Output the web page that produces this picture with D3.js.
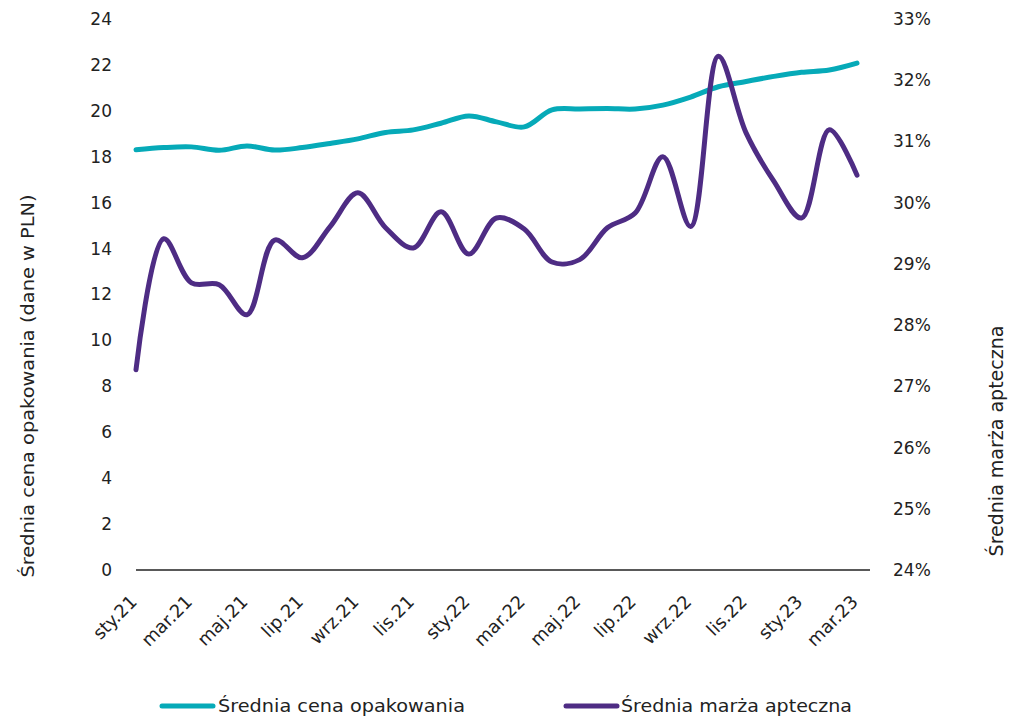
<!DOCTYPE html>
<html><head><meta charset="utf-8">
<script src="https://cdn.jsdelivr.net/npm/d3@7"></script>
<style>
body{margin:0;background:#fff;}
text{font-family:"DejaVu Sans",sans-serif;fill:#222;}
</style></head>
<body>
<svg id="c" width="1012" height="717"></svg>
<script>
const months = ["sty.21","lut.21","mar.21","kwi.21","maj.21","cze.21","lip.21","sie.21","wrz.21","paź.21","lis.21","gru.21",
"sty.22","lut.22","mar.22","kwi.22","maj.22","cze.22","lip.22","sie.22","wrz.22","paź.22","lis.22","gru.22",
"sty.23","lut.23","mar.23"];
const price = [18.30,18.40,18.43,18.28,18.47,18.29,18.40,18.58,18.78,19.06,19.17,19.46,19.78,19.52,19.30,20.04,20.08,20.10,20.08,20.25,20.60,21.05,21.28,21.50,21.68,21.78,22.08];
const margin = [27.27,29.41,28.69,28.66,28.17,29.39,29.10,29.61,30.16,29.59,29.26,29.85,29.16,29.75,29.57,29.03,29.07,29.59,29.83,30.75,29.61,32.39,31.14,30.35,29.75,31.19,30.45];
const leftTicks = [0,2,4,6,8,10,12,14,16,18,20,22,24];
const rightTicks = [24,25,26,27,28,29,30,31,32,33];
const seriesNames = ["Średnia cena opakowania","Średnia marża apteczna"];
const colors = ["#06aab8","#4e2c84"];

const svg = d3.select("#c");
const x = d3.scaleLinear().domain([0, months.length-1]).range([136, 857]);
const yL = d3.scaleLinear().domain([0,24]).range([570,19]);
const yR = d3.scaleLinear().domain([24,33]).range([570,19]);

// x axis line
svg.append("line").attr("x1",136).attr("x2",870).attr("y1",570).attr("y2",570)
  .attr("stroke","#222").attr("stroke-width",1.3);

// left ticks
svg.append("g").selectAll("text").data(leftTicks).join("text")
  .attr("x",112).attr("y",d=>yL(d)).attr("dy","0.35em").attr("text-anchor","end")
  .attr("font-size",17).text(d=>d);
// right ticks
svg.append("g").selectAll("text").data(rightTicks).join("text")
  .attr("x",893).attr("y",d=>yR(d)).attr("dy","0.35em").attr("text-anchor","start")
  .attr("font-size",17).text(d=>d+"%");

// x labels
svg.append("g").selectAll("text").data(months.map((m,i)=>({m,i})).filter(d=>d.i%2===0)).join("text")
  .attr("transform",d=>`translate(${x(d.i)+2},${603}) rotate(-45)`)
  .attr("text-anchor","end").attr("font-size",18).text(d=>d.m);

// axis titles
svg.append("text").attr("transform","translate(34,386) rotate(-90)").attr("text-anchor","middle")
  .attr("font-size",17).attr("textLength",383).attr("lengthAdjust","spacingAndGlyphs")
  .text("Średnia cena opakowania (dane w PLN)");
svg.append("text").attr("transform","translate(1003,441) rotate(-90)").attr("text-anchor","middle")
  .attr("font-family","Liberation Sans, Arial, sans-serif").attr("font-size",19)
  .text("Średnia marża apteczna");

// lines
const lineL = d3.line().x((d,i)=>x(i)).y(d=>yL(d)).curve(d3.curveCatmullRom.alpha(0.5));
const lineR = d3.line().x((d,i)=>x(i)).y(d=>yR(d)).curve(d3.curveCatmullRom.alpha(0.5));
svg.append("path").attr("d",lineL(price)).attr("fill","none").attr("stroke",colors[0])
  .attr("stroke-width",5).attr("stroke-linecap","round");
svg.append("path").attr("d",lineR(margin)).attr("fill","none").attr("stroke",colors[1])
  .attr("stroke-width",5).attr("stroke-linecap","round");

// legend
const leg = [{x1:162,x2:213,tx:218,w:247},{x1:566,x2:617,tx:621,w:231}];
leg.forEach((l,k)=>{
  svg.append("line").attr("x1",l.x1).attr("x2",l.x2).attr("y1",706).attr("y2",706)
    .attr("stroke",colors[k]).attr("stroke-width",5).attr("stroke-linecap","round");
  svg.append("text").attr("x",l.tx).attr("y",706).attr("dy","0.35em").attr("font-size",17)
    .attr("textLength",l.w).attr("lengthAdjust","spacingAndGlyphs").text(seriesNames[k]);
});
</script>
</body></html>
